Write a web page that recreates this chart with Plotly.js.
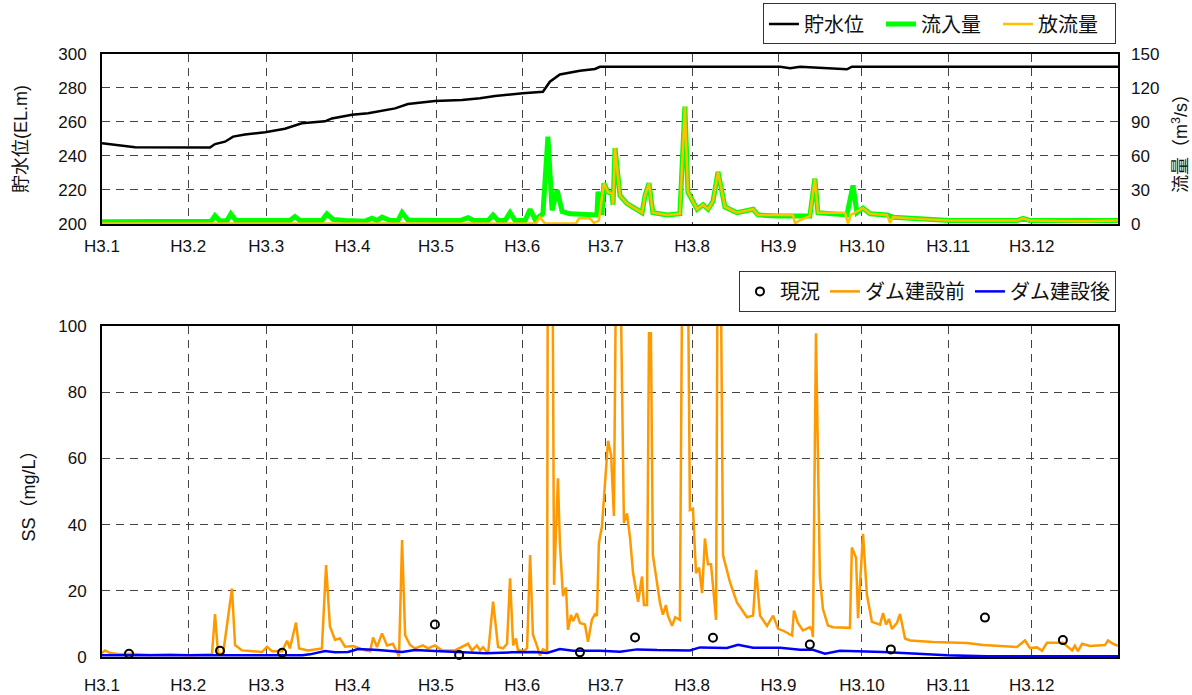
<!DOCTYPE html>
<html>
<head>
<meta charset="utf-8">
<script src="https://cdn.plot.ly/plotly-3.0.1.min.js"></script>
<style>
  html, body { margin: 0; padding: 0; background: #fff; }
  #chart { width: 1192px; height: 695px; }
</style>
</head>
<body>
<div id="chart"></div>
<script>
// Month boundaries (day of year, H3 = 1991) and their labels
const monthStart = [0, 31, 59, 90, 120, 151, 181, 212, 243, 273, 304, 334];
const monthLabels = ['H3.1', 'H3.2', 'H3.3', 'H3.4', 'H3.5', 'H3.6', 'H3.7', 'H3.8', 'H3.9', 'H3.10', 'H3.11', 'H3.12'];

// 貯水位 (EL.m)
const levelDay = [0, 11.9, 38.8, 40.6, 44.2, 47.1, 51.4, 58.6, 65.7, 71.8, 80.1, 82.6, 89.8, 95.6, 105.3, 109.9, 119.6, 129.3, 135.8, 141.2, 151.2, 158.4, 160.9, 164.5, 171.7, 177.1, 178.9, 243.6, 247.2, 250.8, 267.6, 269.4, 365];
const levelVal = [247.5, 245.1, 245, 247, 248.4, 251.4, 252.6, 254, 256, 259.2, 260.4, 262.1, 264.3, 265.1, 268, 270.6, 272.4, 273, 274, 275.3, 276.9, 277.8, 283.7, 288, 290.2, 291.2, 292.5, 292.5, 291.6, 292.5, 291, 292.5, 292.5];

// 流入量 (m3/s)
const inflowDay = [0, 17.2, 37, 39.2, 40.6, 42.4, 44.9, 46.3, 48.1, 57.5, 59.3, 61.1, 67.5, 69.3, 71.1, 79, 80.8, 83, 87.3, 94.5, 97, 98.8, 100.6, 103.5, 106.3, 107.8, 109.9, 121.4, 128.6, 131.5, 133.6, 138.7, 140.5, 142.3, 144.8, 146.6, 148.4, 152, 153.8, 155.6, 158.4, 160.2, 161.7, 163.5, 165.3, 168.1, 175.3, 177.8, 178.2, 179.6, 180.3, 181.8, 183.2, 183.6, 184.3, 186.1, 188.6, 194, 195.1, 196.5, 197.9, 203, 207.6, 209.4, 210.5, 213.8, 215.9, 217.7, 219.5, 221.3, 223.8, 228.1, 233.9, 235.7, 242.5, 248.2, 254.3, 256.1, 257.2, 267.6, 269.8, 271.2, 273.4, 275.9, 282, 284.2, 292.8, 304.6, 328.7, 330.9, 333.4, 352.4, 365];
const inflowVal = [2, 2, 2, 2.5, 7.3, 2.5, 3, 8.8, 3, 2.5, 3.5, 2.5, 3, 6.5, 3, 3, 8.8, 4, 3, 2.5, 5, 3, 6, 3, 3, 10, 3.5, 3, 3, 5.5, 3, 3, 8, 3, 3, 10, 3, 3, 13, 4, 9, 77, 12, 30, 11, 9, 8, 8, 28.5, 8, 36, 28, 27, 17, 67, 25, 18, 10, 25, 36, 10, 8, 9, 103.5, 28, 13, 17, 13, 20, 46, 15, 10, 13, 8, 7, 7, 7, 40, 10, 8, 34, 10, 14, 9, 8, 6, 4.5, 3, 3, 5, 3, 2.5, 3];

// 放流量 (m3/s)
const outflowDay = [0, 155.9, 157.3, 159.1, 170.3, 171.4, 175.3, 176.7, 178.5, 180.3, 181.8, 183.2, 183.6, 184.3, 186.1, 188.6, 194, 195.1, 196.5, 197.9, 203, 207.6, 209.4, 210.5, 213.8, 215.9, 217.7, 219.5, 221.3, 223.8, 228.1, 233.9, 235.7, 242.5, 248.2, 249, 250.8, 254.3, 256.1, 257.2, 266.9, 268, 269.1, 271.2, 273.4, 275.9, 282, 283.1, 284.2, 292.8, 304.6, 328.7, 330.9, 333.4, 352.4, 365];
const outflowVal = [0.5, 0.5, 6, 0.5, 0.5, 5, 5, 1, 3, 36, 28, 27, 17, 67, 25, 18, 10, 25, 36, 10, 8, 9, 103.5, 28, 13, 17, 13, 20, 46, 15, 10, 13, 8, 8, 8, 0.5, 3.5, 7, 40, 10, 10, 0.5, 8, 11, 14, 9, 8, 1, 6, 4.5, 3, 3, 5, 3, 2.5, 3];

// SS 現況 (measured, mg/L)
const obsDay = [9.7, 42.4, 64.7, 119.6, 128.3, 171.7, 191.5, 219.5, 254.3, 283.4, 317.2, 345.2];
const obsVal = [1.0, 1.9, 1.3, 9.8, 0.6, 1.4, 5.9, 5.8, 3.8, 2.3, 11.9, 5.1];

// SS ダム建設前 (mg/L)
const preDay = [0, 1.1, 2.9, 6.5, 10.1, 17.2, 24.4, 31.6, 39.5, 40.6, 41.7, 43.5, 46.7, 47.8, 50.3, 57.5, 59.3, 61.1, 64.7, 66.5, 67.5, 69.7, 70.8, 74, 79, 80.5, 81.9, 83.7, 85.5, 87.3, 90.2, 94.5, 96.3, 97.4, 98.8, 100.6, 102.4, 104.5, 106.7, 107.8, 108.9, 110.6, 112.4, 115.3, 117.1, 119.6, 122.1, 126.8, 131.5, 132.9, 134.7, 135.8, 136.9, 138.7, 140.5, 142.3, 144.1, 145.5, 146.6, 147.7, 148.7, 149.4, 151.2, 152.7, 153.8, 154.8, 156.3, 157.3, 158.4, 159.9, 160.2, 161.7, 162.4, 163.8, 164.5, 165.6, 166.7, 167.4, 168.5, 169.2, 170.6, 171.7, 173.5, 174.6, 176, 177.1, 177.8, 178.5, 179.6, 180.7, 181.8, 182.9, 183.9, 185, 185.7, 187.5, 188.6, 189.7, 190.8, 192.6, 194, 194.7, 195.8, 196.5, 197.2, 197.9, 199.4, 200.5, 201.5, 202.6, 203.3, 204.8, 205.9, 207.6, 208.7, 210.2, 211.2, 212.3, 213.4, 214.5, 215.6, 216.6, 217.7, 218.8, 220.6, 221.3, 222, 223.1, 225.6, 228.1, 231.7, 233.9, 235, 236.4, 238.9, 241.1, 242.9, 244.6, 247.9, 248.6, 250, 251.8, 254.3, 255.1, 255.4, 256.5, 257.9, 259, 260.8, 262.6, 268.7, 269.4, 270.9, 271.6, 273.4, 274.8, 276.6, 279.5, 280.6, 281.7, 282.7, 283.8, 285.6, 286.7, 288.5, 290.3, 298.5, 310.8, 316.5, 328.7, 331.6, 333.4, 335.9, 337.7, 339.5, 345.2, 348.5, 349.5, 350.6, 352.1, 354.9, 358.5, 360.3, 361.4, 363.2, 365];
const preVal = [1.2, 2.0, 1.2, 0.8, 1.0, 0.6, 0.8, 0.5, 0.8, 13, 1, 1, 20.7, 3.6, 2, 1.5, 3.1, 1.7, 1.7, 4.9, 2.6, 10.4, 2.6, 2, 2.6, 27.8, 9.2, 5.2, 5.6, 3.1, 3.3, 2, 1.7, 5.9, 3, 7.1, 3.5, 4, 0.2, 35.3, 6.6, 3.7, 2.6, 3.5, 2.6, 3.5, 2, 2, 4, 2, 3.5, 2, 3, 1, 16.7, 3, 2.6, 4, 23.8, 3.5, 5.6, 2.2, 1.7, 2.6, 30.8, 6.8, 3.3, 0.5, 2.3, 1.8, 150, 150, 21.8, 54, 34.3, 18.4, 21, 8.2, 12.7, 10.8, 13.2, 10.3, 9.8, 4.6, 11.3, 12.9, 12.5, 34.3, 39.4, 51.5, 65.3, 61, 42.6, 150, 150, 40.5, 43.4, 36, 25.3, 16.7, 24.3, 15.7, 15.7, 97.8, 97.8, 30.8, 22.7, 16.2, 12.8, 15.7, 12.5, 9.4, 12, 11.2, 150, 150, 44.4, 44.8, 25.3, 27, 19.3, 35.8, 28, 28, 11.2, 150, 150, 30.8, 22.6, 16.5, 12, 12.5, 26.3, 12.5, 9.4, 12.5, 8.5, 8, 6.5, 14, 10.3, 8, 9, 8, 6, 97.8, 24.3, 14.5, 9.5, 9, 8.8, 33.1, 30, 11.7, 37.2, 18.8, 10.6, 9.8, 13.3, 9.8, 11.5, 8.5, 10.3, 13, 5.6, 5, 4.5, 4.2, 3.6, 3, 5, 2.7, 2.9, 1.9, 4.3, 4.3, 2, 3.4, 1.8, 4, 3.3, 3.6, 3.6, 5, 4, 3.4];

// SS ダム建設後 (mg/L)
const postDay = [0, 35.3, 72, 74.7, 80.1, 83.7, 88.4, 92, 99.2, 107.8, 112.4, 119.6, 126.8, 132.9, 137.6, 147.3, 155.6, 159.9, 164.5, 169.2, 178.9, 186.1, 192.2, 199.4, 211.2, 214.8, 224.5, 228.5, 233.9, 243.6, 250.8, 255.4, 259.7, 265.1, 269.8, 280.6, 303.6, 317.9, 365];
const postVal = [0.5, 0.4, 0.5, 0.8, 1.8, 1.4, 1.5, 2.4, 2.1, 1.5, 2.1, 1.8, 1.6, 1.4, 1.1, 1.4, 1.5, 1.2, 2.4, 1.9, 1.9, 1.6, 2.3, 2.1, 2.0, 2.9, 2.7, 3.7, 2.8, 2.8, 2.2, 2.2, 1.0, 1.9, 1.8, 1.5, 0.5, 0.2, 0.2];

const FONT = 'Liberation Sans, Noto Sans CJK JP, sans-serif';

const traces = [
  { x: levelDay, y: levelVal, xaxis: 'x', yaxis: 'y', type: 'scatter', mode: 'lines',
    name: '貯水位', line: { color: '#000000', width: 2.5 }, legend: 'legend' },
  { x: inflowDay, y: inflowVal, xaxis: 'x', yaxis: 'y2', type: 'scatter', mode: 'lines',
    name: '流入量', line: { color: '#00FF00', width: 5 }, legend: 'legend' },
  { x: outflowDay, y: outflowVal, xaxis: 'x', yaxis: 'y2', type: 'scatter', mode: 'lines',
    name: '放流量', line: { color: '#FFC000', width: 2.5 }, legend: 'legend' },
  { x: preDay, y: preVal, xaxis: 'x2', yaxis: 'y3', type: 'scatter', mode: 'lines',
    name: 'ダム建設前', line: { color: '#FF9900', width: 2.5 }, legend: 'legend2', legendrank: 2 },
  { x: postDay, y: postVal, xaxis: 'x2', yaxis: 'y3', type: 'scatter', mode: 'lines',
    name: 'ダム建設後', line: { color: '#0000FF', width: 2.5 }, legend: 'legend2', legendrank: 3 },
  { x: obsDay, y: obsVal, xaxis: 'x2', yaxis: 'y3', type: 'scatter', mode: 'markers',
    name: '現況', marker: { symbol: 'circle-open', size: 8, color: '#000000', line: { width: 2, color: '#000000' } },
    legend: 'legend2', legendrank: 1, cliponaxis: false }
];

const gridStyle = { showgrid: true, gridcolor: '#444444', gridwidth: 1, griddash: '8px,6px' };
const frameStyle = { showline: true, mirror: true, linecolor: '#000000', linewidth: 2, zeroline: false, ticks: '' };
const tickFont = { family: FONT, size: 17, color: '#111111' };
const titleFont = { family: FONT, size: 18, color: '#111111' };
const legendFont = { family: FONT, size: 20, color: '#111111' };

const xBase = Object.assign({}, gridStyle, frameStyle, {
  range: [0, 365], tickmode: 'array', tickvals: monthStart, ticktext: monthLabels,
  tickfont: tickFont, fixedrange: true
});

const layout = {
  width: 1192, height: 695,
  margin: { l: 102, r: 74, t: 0, b: 38 },
  paper_bgcolor: '#ffffff', plot_bgcolor: '#ffffff',
  font: { family: FONT, color: '#111111' },
  showlegend: true,
  xaxis: Object.assign({}, xBase, { anchor: 'y', ticklabelstandoff: 6 }),
  yaxis: Object.assign({}, gridStyle, frameStyle, {
    domain: [0.6591, 0.9178], range: [200, 300], dtick: 20, tickfont: tickFont, ticklabelstandoff: 10,
    title: { text: '貯水位(EL.m)', font: titleFont, standoff: 26 }
  }),
  yaxis2: {
    overlaying: 'y', side: 'right', anchor: 'x', range: [0, 150], dtick: 30,
    showgrid: false, zeroline: false, showline: false, ticks: '', tickfont: tickFont, ticklabelstandoff: 12,
    title: { text: '流量（m<sup>3</sup>/s）', font: titleFont, standoff: 16 }
  },
  xaxis2: Object.assign({}, xBase, { anchor: 'y3', ticklabelstandoff: 12 }),
  yaxis3: Object.assign({}, gridStyle, frameStyle, {
    anchor: 'x2', domain: [0, 0.5038], range: [0, 100], dtick: 20, tickfont: tickFont, ticklabelstandoff: 10,
    title: { text: 'SS（mg/L）', font: titleFont, standoff: 18 }
  }),
  legend: {
    orientation: 'h', x: 0.998, xanchor: 'right', y: 0.9323, yanchor: 'bottom',
    bordercolor: '#333333', borderwidth: 1, bgcolor: '#ffffff',
    font: legendFont, itemwidth: 30, entrywidth: 72, entrywidthmode: 'pixels', traceorder: 'normal'
  },
  legend2: {
    orientation: 'h', x: 0.998, xanchor: 'right', y: 0.5253, yanchor: 'bottom',
    bordercolor: '#333333', borderwidth: 1, bgcolor: '#ffffff',
    font: legendFont, itemwidth: 30, traceorder: 'normal'
  }
};

Plotly.newPlot('chart', traces, layout, { staticPlot: true, displayModeBar: false });
</script>
</body>
</html>
